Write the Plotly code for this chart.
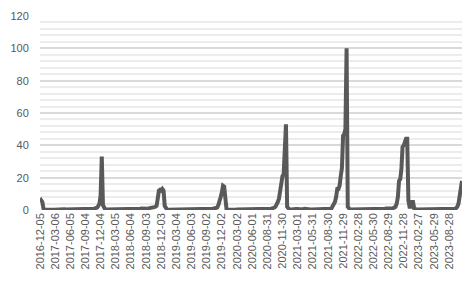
import pandas as pd
import plotly.graph_objects as go

start_date = "2016-12-05"

seg_a = [5, 6, 5, 0.8, 0.3, 0.2, 0.2, 0.2, 0.2, 0.2,
         0.2, 0.2, 0.2, 0.3, 0.3, 0.3, 0.3, 0.3, 0.3, 0.5,
         0.6, 0.5, 0.3, 0.3, 0.3, 0.4, 0.6, 0.8, 0.7, 0.5,
         0.3, 0.3, 0.3, 0.2, 0.2, 0.2, 0.2, 0.3, 0.3, 0.4,
         0.5, 0.6, 0.5, 0.4, 0.5, 0.6, 0.8]
seg_b = [1, 1.2, 1.5, 2.5, 4, 9, 33, 3, 0.6, 0.3]
seg_c = [0.3, 0.3, 0.2, 0.2, 0.2, 0.2, 0.2, 0.2, 0.2, 0.2,
         0.3, 0.3, 0.4, 0.6, 0.7, 0.6, 0.4, 0.3, 0.2, 0.2,
         0.2, 0.2, 0.2, 0.2, 0.3, 0.3, 0.3, 0.4, 0.6, 0.8,
         0.9, 0.8, 0.6, 0.5, 0.5, 0.6, 0.8, 1.2]
seg_d = [1.5, 1.5, 1.6, 1.8, 2, 2.5, 7, 12, 12.5, 12, 13, 12, 2.5, 0.5]
seg_e = [0.3, 0.2, 0.2, 0.2, 0.2, 0.2, 0.2, 0.2, 0.2, 0.2,
         0.3, 0.3, 0.3, 0.5, 0.7, 0.6, 0.4, 0.3, 0.2, 0.2,
         0.2, 0.2, 0.2, 0.2, 0.2, 0.2, 0.2, 0.3, 0.3, 0.3,
         0.3, 0.4, 0.5, 0.6, 0.7, 0.6, 0.5, 0.5, 0.6, 0.8,
         0.9, 1, 1.2]
seg_f = [1.5, 3, 5, 8, 11, 15, 14.5, 4, 0.5]
seg_g = [0.3, 0.2, 0.2, 0.2, 0.2, 0.2, 0.2, 0.2, 0.3, 0.3,
         0.4, 0.5, 0.4, 0.3, 0.2, 0.2, 0.2, 0.2, 0.2, 0.2,
         0.2, 0.3, 0.4, 0.6, 0.7, 0.6, 0.4, 0.3, 0.3, 0.3,
         0.3, 0.3, 0.4, 0.5, 0.6, 0.6, 0.7, 0.8, 0.9]
seg_h = [1, 1.5, 2, 3, 5, 7, 12, 20, 21, 22, 35, 53, 2, 0.5]
seg_i = [0.3, 0.3, 0.2, 0.3, 0.4, 0.6, 0.8, 0.6, 0.4, 0.3,
         0.3, 0.4, 0.6, 0.7, 0.5, 0.4, 0.3, 0.3, 0.3, 0.3,
         0.3, 0.4, 0.6, 0.8, 0.9, 0.8, 0.6, 0.5, 0.5, 0.6,
         0.7, 0.8, 0.6, 0.5, 0.6, 0.8]
seg_j = [1, 2, 3, 5, 8, 13, 13, 15, 21, 26, 46, 47, 50, 100, 2, 0.5]
seg_k = [0.3, 0.3, 0.3, 0.4, 0.6, 0.8, 0.6, 0.4, 0.3, 0.3,
         0.3, 0.4, 0.5, 0.7, 0.6, 0.4, 0.3, 0.3, 0.3, 0.3,
         0.4, 0.5, 0.7, 0.8, 0.6, 0.5, 0.4, 0.4, 0.5, 0.6,
         0.8, 1, 0.9, 0.8, 0.8, 0.9, 1, 1.2]
seg_l = [1.5, 2, 4, 8, 18, 19, 25, 39, 40, 42, 44, 44, 6, 2, 2, 5, 5, 1, 0.5]
seg_m = [0.3, 0.3, 0.3, 0.3, 0.4, 0.5, 0.6, 0.5, 0.4, 0.3,
         0.3, 0.3, 0.4, 0.6, 0.7, 0.6, 0.4, 0.3, 0.3, 0.3,
         0.3, 0.4, 0.5, 0.6, 0.5, 0.4, 0.4, 0.4, 0.5, 0.6,
         0.6, 0.5]
seg_n = [0.6, 0.8, 1.2, 2, 4, 9, 14, 18]

values = (seg_a + seg_b + seg_c + seg_d + seg_e + seg_f + seg_g + seg_h +
          seg_i + seg_j + seg_k + seg_l + seg_m + seg_n)
dates = pd.date_range(start_date, periods=len(values), freq="7D")

tick_labels = ["2016-12-05", "2017-03-06", "2017-06-05", "2017-09-04", "2017-12-04",
               "2018-03-05", "2018-06-04", "2018-09-03", "2018-12-03", "2019-03-04",
               "2019-06-03", "2019-09-02", "2019-12-02", "2020-03-02", "2020-06-01",
               "2020-08-31", "2020-11-30", "2021-03-01", "2021-05-31", "2021-08-30",
               "2021-11-29", "2022-02-28", "2022-05-30", "2022-08-29", "2022-11-28",
               "2023-02-27", "2023-05-29", "2023-08-28"]

fig = go.Figure()
fig.add_trace(go.Scatter(x=dates, y=values, mode="lines",
                         line=dict(color="#595959", width=4),
                         hoverinfo="skip"))

font_family = "Liberation Sans, Arial, sans-serif"
fig.update_layout(
    width=473, height=281,
    margin=dict(l=35, r=11, t=10, b=71, pad=0),
    paper_bgcolor="white", plot_bgcolor="white",
    showlegend=False,
    font=dict(family=font_family, size=11, color="#595959"),
)
fig.update_xaxes(
    type="date",
    range=[dates[0], dates[-1]],
    tickmode="array",
    tickvals=pd.to_datetime(tick_labels),
    ticktext=tick_labels,
    tickangle=-90,
    showgrid=False,
    showline=False,
    ticks="",
    zeroline=False,
    tickfont=dict(size=11, color="#595959"),
)
fig.update_yaxes(
    range=[0, 120],
    dtick=20,
    showgrid=True, gridcolor="rgb(217,217,217)", gridwidth=1.5,
    zeroline=False,
    showline=False,
    ticks="outside", ticklen=8, tickcolor="rgba(0,0,0,0)",
    tickfont=dict(size=11, color="#595959"),
    minor=dict(dtick=4, showgrid=True, gridcolor="rgb(236,236,236)", gridwidth=1.5),
)

fig.write_html("out.html")
